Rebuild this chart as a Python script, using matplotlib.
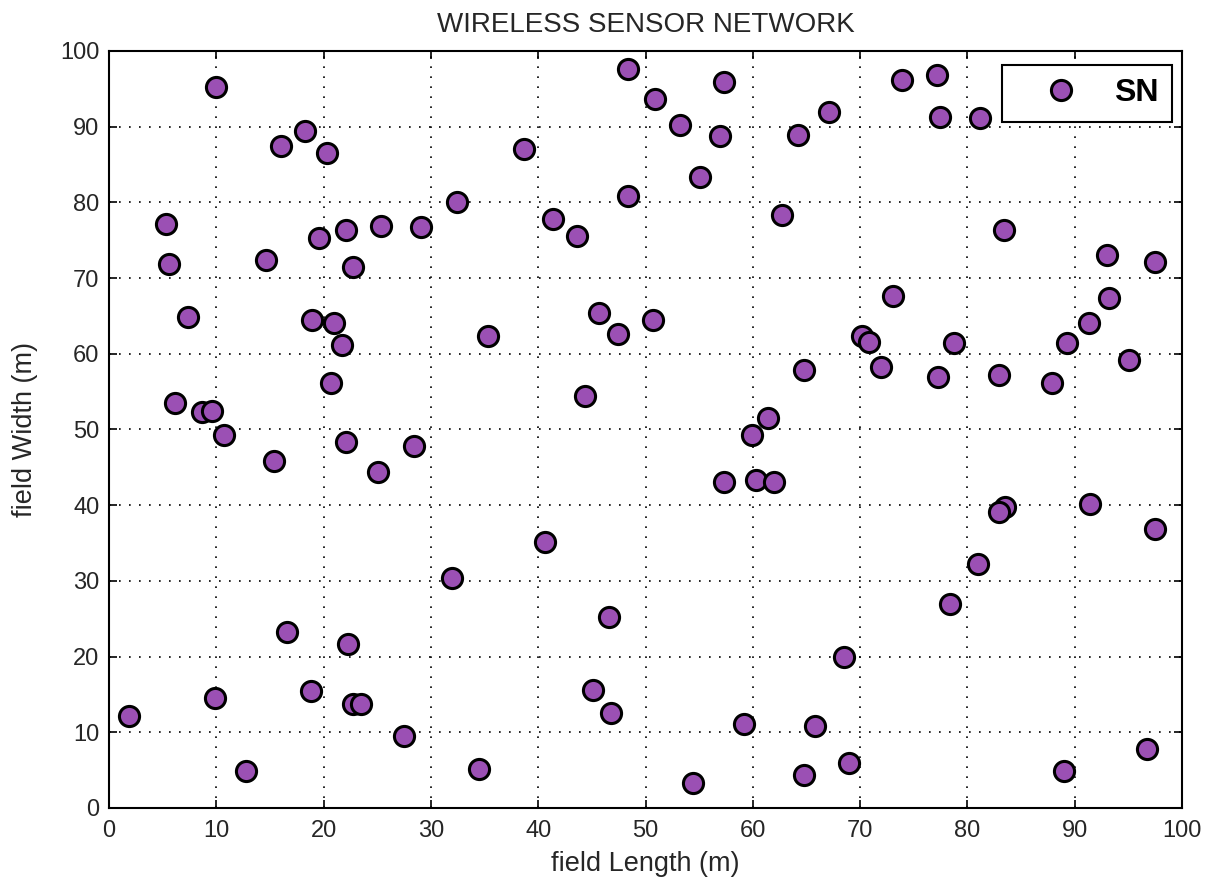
import matplotlib
matplotlib.use("Agg")
import matplotlib.pyplot as plt

# sensor node positions (field Length, field Width)
node_x = [10, 18.3, 16, 20.3, 5.3, 5.6, 14.6, 19.6, 22.1, 25.3,
          29.1, 22.7, 32.4, 38.7, 48.4, 50.9, 53.2, 57.3, 56.9, 55.1,
          48.4, 41.4, 43.6, 64.2, 67.1, 62.7, 73.9, 77.2, 77.4, 81.2,
          83.4, 93, 97.5, 73.1, 93.2, 7.4, 18.9, 21, 21.7, 20.7,
          35.3, 45.7, 47.4, 50.7, 44.4, 70.2, 70.8, 78.7, 91.3, 89.3,
          71.9, 64.8, 77.3, 82.9, 87.9, 95.1, 6.1, 8.7, 9.6, 10.7,
          22.1, 28.4, 15.4, 25.1, 61.4, 59.9, 57.3, 60.3, 62, 83.5,
          82.9, 91.4, 97.5, 40.6, 32, 81, 78.4, 16.6, 46.6, 22.3,
          68.5, 18.8, 45.1, 22.7, 23.5, 9.9, 1.9, 46.8, 59.2, 65.8,
          27.5, 12.8, 34.5, 54.4, 64.8, 69, 89, 96.7]
node_y = [95.3, 89.4, 87.4, 86.5, 77.2, 71.9, 72.4, 75.3, 76.4, 76.9,
          76.7, 71.5, 80.1, 87.1, 97.6, 93.6, 90.2, 95.9, 88.8, 83.4,
          80.8, 77.8, 75.5, 88.9, 91.9, 78.3, 96.2, 96.8, 91.3, 91.1,
          76.4, 73, 72.1, 67.6, 67.4, 64.8, 64.5, 64, 61.1, 56.1,
          62.3, 65.4, 62.6, 64.5, 54.4, 62.3, 61.6, 61.4, 64, 61.4,
          58.3, 57.8, 56.9, 57.2, 56.1, 59.2, 53.5, 52.3, 52.4, 49.3,
          48.4, 47.8, 45.9, 44.4, 51.5, 49.3, 43, 43.3, 43, 39.8,
          39.1, 40.1, 36.8, 35.1, 30.4, 32.2, 26.9, 23.3, 25.2, 21.6,
          19.9, 15.4, 15.6, 13.7, 13.7, 14.5, 12.2, 12.5, 11.1, 10.8,
          9.5, 4.9, 5.2, 3.3, 4.4, 6, 4.9, 7.8]

x_ticks = list(range(0, 101, 10))
y_ticks = list(range(0, 101, 10))

plt.rcParams['font.family'] = ['Liberation Sans', 'DejaVu Sans']

fig = plt.figure(figsize=(12.13, 8.88), dpi=100)
ax = fig.add_axes([0.0899, 0.0901, 0.8846, 0.8525])

ax.plot(node_x, node_y, 'o', markersize=14.5, markerfacecolor='#9b50b4',
        markeredgecolor='black', markeredgewidth=2.2, linestyle='none', label='SN')

ax.set_xlim(0, 100)
ax.set_ylim(0, 100)
ax.set_xticks(x_ticks)
ax.set_yticks(y_ticks)
ax.tick_params(direction='in', length=6, width=1.2, top=True, right=True,
               labelsize=17, labelcolor='#262626')
ax.tick_params(axis='x', pad=9)
ax.tick_params(axis='y', pad=7)
ax.grid(True, linestyle=(0, (1, 5)), linewidth=1.2, color='black')
for s in ax.spines.values():
    s.set_linewidth(1.5)

ax.set_title('WIRELESS SENSOR NETWORK', fontsize=20, pad=14, color='#262626')
ax.set_xlabel('field Length (m)', fontsize=19.5, labelpad=6, color='#262626')
ax.set_ylabel('field Width (m)', fontsize=19.5, labelpad=16, color='#262626')

leg = ax.legend(loc='upper right', prop={'weight': 'bold', 'size': 23},
                fancybox=False, edgecolor='black', framealpha=1,
                borderpad=0.42, handlelength=2.9, handletextpad=0.2,
                borderaxespad=0, bbox_to_anchor=(0.9907, 0.9815))
leg.get_frame().set_linewidth(1.5)

fig.savefig('out.png', dpi=100)
